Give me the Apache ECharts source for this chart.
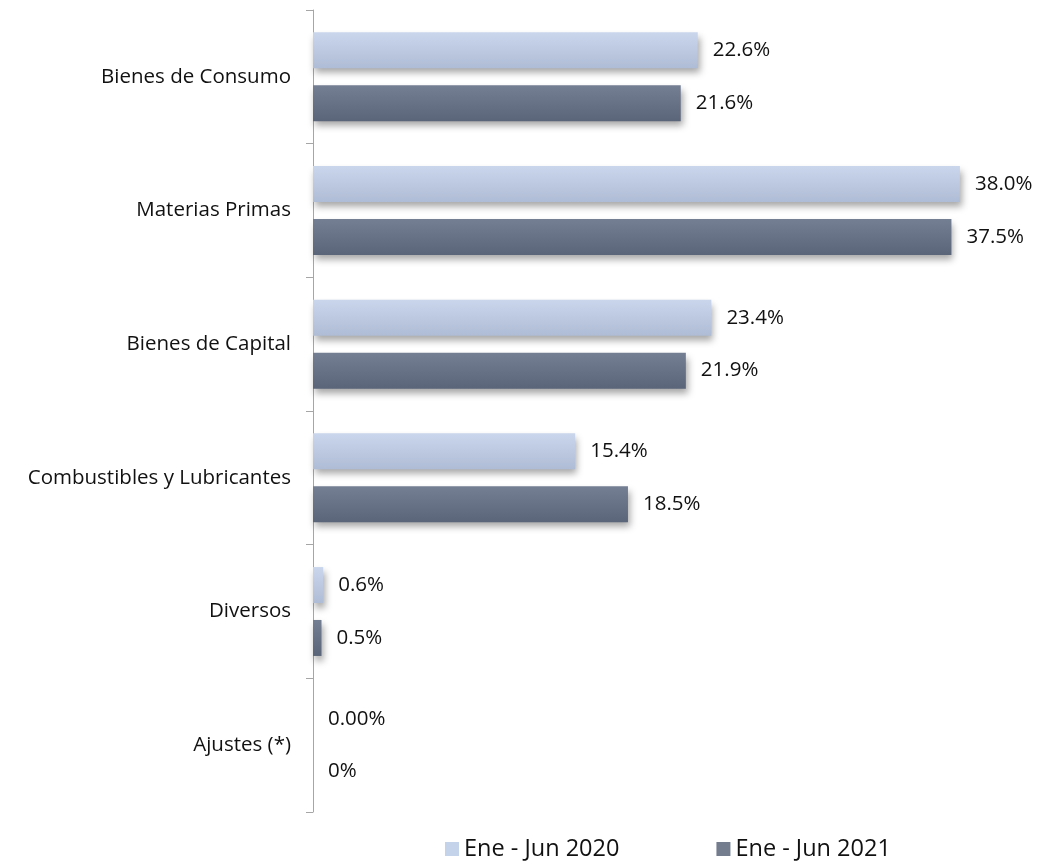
<!DOCTYPE html>
<html>
<head>
<meta charset="utf-8">
<script src="https://cdn.jsdelivr.net/npm/echarts@6/dist/echarts.min.js"></script>
<style>
  html, body { margin: 0; padding: 0; background: #fff; }
  #chart { width: 1040px; height: 863px; }
</style>
</head>
<body>
<div id="chart"></div>
<script>
var categories = ['Bienes de Consumo', 'Materias Primas', 'Bienes de Capital', 'Combustibles y Lubricantes', 'Diversos', 'Ajustes (*)'];
var seriesNames = ['Ene - Jun 2020', 'Ene - Jun 2021'];
var values2020 = [22.6, 38.0, 23.4, 15.4, 0.6, 0];
var values2021 = [21.6, 37.5, 21.9, 18.5, 0.5, 0];
var labels2020 = ['22.6%', '38.0%', '23.4%', '15.4%', '0.6%', '0.00%'];
var labels2021 = ['21.6%', '37.5%', '21.9%', '18.5%', '0.5%', '0%'];

var FONT = '"Open Sans", sans-serif';

function grad(top, bottom) {
  return new echarts.graphic.LinearGradient(0, 0, 0, 1, [
    { offset: 0, color: top },
    { offset: 1, color: bottom }
  ]);
}

function makeSeries(name, data, labels, top, bottom) {
  return {
    name: name,
    type: 'bar',
    data: data,
    barWidth: 36,
    barGap: '47%',
    barCategoryGap: '33%',
    itemStyle: {
      color: grad(top, bottom),
      shadowColor: 'rgba(0,0,0,0.35)',
      shadowBlur: 7,
      shadowOffsetX: 2,
      shadowOffsetY: 5
    },
    label: {
      show: true,
      position: 'right',
      distance: 15,
      color: '#111',
      fontFamily: FONT,
      fontSize: 20.5,
      formatter: function (p) { return labels[p.dataIndex]; }
    }
  };
}

var myChart = echarts.init(document.getElementById('chart'));
myChart.setOption({
  animation: false,
  grid: { left: 313, right: 46, top: 10, bottom: 51, containLabel: false },
  legend: {
    data: [
      { name: seriesNames[0], itemStyle: { color: '#c5d3ea' } },
      { name: seriesNames[1], itemStyle: { color: '#737d8e' } }
    ],
    left: 440,
    top: 832,
    icon: 'rect',
    itemWidth: 14,
    itemHeight: 14,
    itemGap: 97,
    textStyle: { fontFamily: FONT, fontSize: 23.5, color: '#111' }
  },
  xAxis: {
    type: 'value',
    min: 0,
    max: 40,
    show: false
  },
  yAxis: {
    type: 'category',
    inverse: true,
    data: categories,
    axisLine: { show: true, lineStyle: { color: '#a6a6a6', width: 1 } },
    axisTick: { show: true, inside: false, length: 7, lineStyle: { color: '#a6a6a6' } },
    axisLabel: { margin: 22, color: '#111', fontFamily: FONT, fontSize: 20.5 }
  },
  series: [
    makeSeries(seriesNames[0], values2020, labels2020, '#c9d6ec', '#afbcd5'),
    makeSeries(seriesNames[1], values2021, labels2021, '#747f93', '#5a6579')
  ]
});
</script>
</body>
</html>
